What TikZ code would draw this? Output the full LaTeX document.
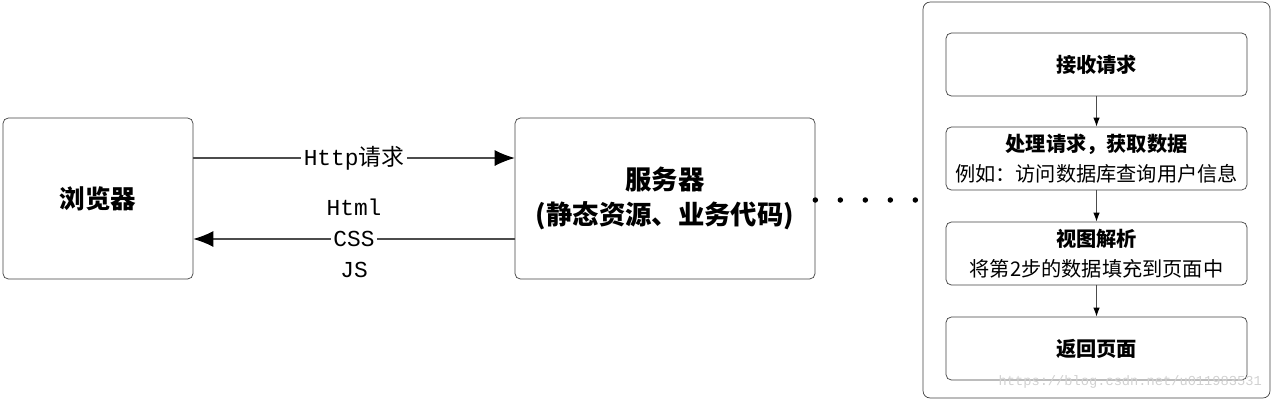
\documentclass[tikz,border=0pt]{standalone}
\usepackage{fontspec}
\setmainfont{Noto Sans CJK SC}
\setmonofont{Liberation Mono}
\usetikzlibrary{arrows.meta}
\begin{document}
\begin{tikzpicture}[x=0.02cm, y=-0.02cm, line join=round, line cap=round,
	>={Latex[length=4mm,width=3.2mm,black]},
	box/.style={draw=black!75, rounded corners=3pt, inner sep=0pt, align=center},
	step box/.style={box, minimum width=6.02cm, minimum height=1.26cm, font=\fontsize{11.5}{17}\selectfont},
	wire/.style={draw=black!70, line width=0.6pt},
	tag/.style={font=\ttfamily\fontsize{13}{15}\selectfont, inner sep=1.5pt}]
	\useasboundingbox (0,0) rectangle (1280,400);
	% left side
	\node[box, minimum width=3.8cm, minimum height=3.22cm, font=\fontsize{14.5}{18}\selectfont\bfseries] (browser) at (98,198.5) {浏览器};
	\node[box, minimum width=6cm, minimum height=3.22cm, font=\fontsize{15}{20}\selectfont\bfseries] (server) at (665,198.5) {服务器\\(静态资源、业务代码)};
	\draw[wire,->] ([yshift=0.81cm]browser.east) -- ([yshift=0.81cm]server.west)
		node[midway, fill=white, tag] {Http{\rmfamily 请求}};
	\draw[wire,->] ([yshift=-0.81cm]server.west) -- ([yshift=-0.81cm]browser.east)
		node[midway, fill=white, tag] {CSS}
		node[midway, tag, yshift=0.64cm] {Html}
		node[midway, tag, yshift=-0.62cm] {JS};
	\foreach \i in {0,...,4} \fill ([xshift=\i*0.5cm, yshift=-0.03cm]server.east) circle (0.055cm);
	% right panel
	\node[box, rounded corners=4pt, minimum width=6.94cm, minimum height=7.92cm] (panel) at (1096.5,200) {};
	\node[step box] (s1) at (1096.5,64.5) {\bfseries 接收请求};
	\node[step box] (s2) at (1096.5,158.5) {\bfseries 处理请求，获取数据\\例如：访问数据库查询用户信息};
	\node[step box] (s3) at (1096.5,253.5) {\bfseries 视图解析\\将第2步的数据填充到页面中};
	\node[step box] (s4) at (1096.5,348.5) {\bfseries 返回页面};
	\foreach \a/\b in {s1/s2,s2/s3,s3/s4}
		\draw[wire, -{Latex[length=1.8mm,width=1.3mm,black]}] (\a) -- (\b);
	\node[text=black!18, font=\ttfamily\fontsize{7.8}{9}\selectfont, anchor=east] (mark) at (1268,382) {https://blog.csdn.net/u011983531};
\end{tikzpicture}
\end{document}
